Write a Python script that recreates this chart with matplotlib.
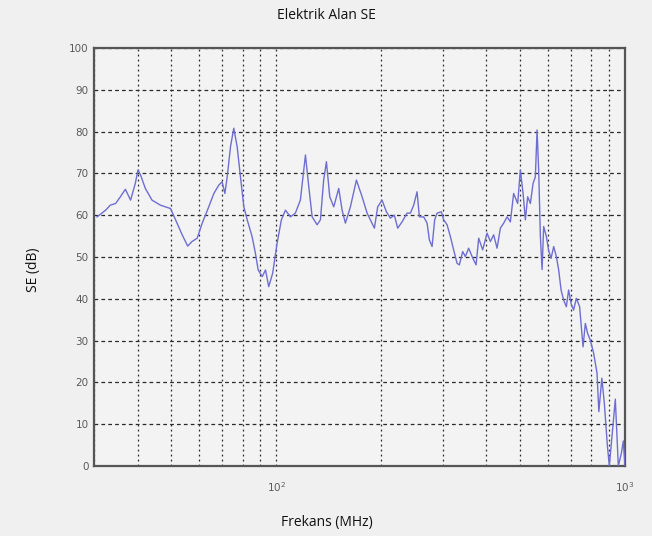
import numpy as np
import matplotlib
matplotlib.use("Agg")
import matplotlib.pyplot as plt
from matplotlib.ticker import LogLocator, LogFormatterSciNotation, NullFormatter, MultipleLocator

# Frecuencias (MHz) y valores de SE (dB).
frekans = [30.6, 32.4, 33.4, 34.6, 35.7, 36.9, 38.2, 39.4, 40.1, 40.8,
           42.1, 44.0, 46.5, 49.7, 51.4, 53.7, 55.7, 57.3, 59.3, 61.3,
           64.0, 66.2, 68.4, 69.9, 71.2, 72.3, 73.9, 75.5, 77.2, 78.9,
           80.7, 82.5, 85.2, 87.1, 88.7, 91.1, 93.1, 95.1, 97.6, 100.5,
           103.4, 106.2, 109.8, 113.4, 117.2, 121.2, 123.9, 126.7, 130.9, 133.8,
           136.7, 139.2, 142.3, 146.1, 151.0, 154.4, 157.8, 163.1, 169.7, 176.2,
           182.1, 186.1, 191.1, 195.3, 201.0, 206.9, 212.4, 218.0, 222.9, 229.4,
           237.1, 242.4, 247.7, 253.3, 257.2, 264.6, 270.6, 274.7, 279.7, 284.5,
           289.1, 297.4, 301.9, 308.8, 315.6, 322.5, 329.8, 334.9, 342.3, 348.4,
           356.1, 364.3, 374.0, 380.5, 390.6, 402.2, 411.0, 420.1, 429.6, 439.1,
           448.8, 458.9, 469.0, 479.3, 492.2, 501.0, 510.1, 517.9, 525.8, 535.3,
           544.9, 553.2, 559.5, 565.4, 571.8, 578.3, 584.4, 595.0, 604.1, 613.7,
           624.4, 635.5, 645.3, 655.6, 666.8, 678.7, 689.1, 700.2, 712.2, 725.1,
           741.0, 757.9, 769.5, 781.3, 795.3, 812.8, 831.3, 841.3, 858.1, 872.4,
           889.9, 901.6, 919.6, 938.0, 956.8, 975.9, 988.8, 1000.0]

se_db = [59.6, 61.2, 62.4, 62.8, 64.4, 66.2, 63.6, 67.6, 70.8, 69.6,
         66.4, 63.6, 62.4, 61.6, 58.9, 55.3, 52.6, 53.7, 54.5, 58.1,
         62.0, 65.2, 67.2, 68.0, 65.2, 69.2, 76.4, 80.8, 76.4, 69.2,
         62.0, 58.9, 54.9, 50.9, 46.9, 45.3, 46.9, 42.9, 46.1, 53.3,
         58.9, 61.2, 59.6, 60.5, 63.6, 74.4, 66.8, 59.6, 57.7, 58.9,
         68.4, 72.8, 64.4, 62.0, 66.4, 61.2, 58.1, 62.0, 68.4, 64.4,
         60.5, 58.9, 56.9, 62.0, 63.6, 60.8, 59.3, 60.0, 56.9, 58.4,
         60.5, 60.5, 62.4, 65.6, 59.6, 59.6, 58.1, 54.1, 52.5, 58.9,
         60.5, 60.8, 58.9, 57.7, 54.9, 51.7, 48.5, 48.1, 51.3, 50.1,
         52.1, 50.1, 48.1, 54.5, 51.7, 55.7, 53.7, 55.3, 52.1, 56.9,
         58.1, 59.6, 58.4, 65.2, 62.8, 70.8, 65.2, 58.9, 64.4, 62.8,
         67.6, 69.2, 80.4, 70.8, 55.0, 47.0, 57.3, 54.9, 51.5, 49.7,
         52.5, 50.1, 46.9, 42.1, 39.7, 38.1, 42.1, 38.9, 37.3, 40.1,
         38.1, 28.5, 34.1, 31.7, 30.1, 27.0, 22.2, 13.0, 21.0, 15.0,
         5.0, 0.0, 8.0, 16.0, 0.0, 3.0, 6.0, 0.0]

arkaplan = '#f0f0f0'

fig = plt.figure(figsize=(6.52, 5.36), dpi=100, facecolor=arkaplan)
ax = fig.add_axes([0.1442, 0.1306, 0.8144, 0.7799], facecolor='#f3f3f3')

ax.plot(frekans, se_db, color='#6e6ed2', lw=1.0, zorder=3)

ax.set_xscale('log')
ax.set_xlim(30, 1000)
ax.set_ylim(0, 100)
ax.yaxis.set_major_locator(MultipleLocator(10))
ax.xaxis.set_major_locator(LogLocator(base=10))
ax.xaxis.set_major_formatter(LogFormatterSciNotation())
ax.xaxis.set_minor_locator(LogLocator(base=10, subs=np.arange(2, 10)))
ax.xaxis.set_minor_formatter(NullFormatter())

# Rejilla punteada estilo MATLAB
ax.grid(True, which='major', axis='y', color='#2a2a2a', lw=0.9, ls=(0, (3, 2.5)))
ax.grid(True, which='both', axis='x', color='#2a2a2a', lw=0.9, ls=(0, (1.5, 2.5)))

for lado in ax.spines.values():
    lado.set_color('#555555')
    lado.set_linewidth(1.6)

ax.tick_params(axis='both', which='both', direction='in', length=0, colors='#555555',
               labelsize=7.5, labelcolor='#5a5a5a')
ax.tick_params(axis='y', pad=4)
ax.tick_params(axis='x', pad=10)

fig.text(0.5, 0.972, 'Elektrik Alan SE', ha='center', va='center',
         fontsize=10, family='Open Sans', color='#111111')
ax.set_xlabel('Frekans (MHz)', fontsize=10, family='Open Sans', color='#111111')
ax.xaxis.set_label_coords((327 - 94) / 531, -0.117)
ax.set_ylabel('SE (dB)', fontsize=10, family='Open Sans', color='#111111')
ax.yaxis.set_label_coords(-0.100, 0.469)

fig.savefig('out.png', dpi=100, facecolor=arkaplan)
